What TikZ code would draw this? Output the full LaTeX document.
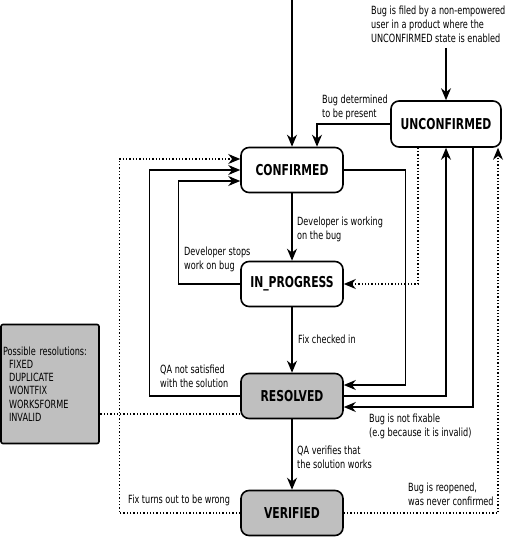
\documentclass[tikz,border=0pt]{standalone}
\usepackage{fontspec}
\setmainfont{DejaVu Sans}[FakeStretch=0.72]
\usetikzlibrary{arrows.meta}

\tikzset{
	state/.style={draw, line width=1.6pt, rounded corners=8pt, minimum width=102pt,
		minimum height=45pt, font=\bfseries\fontsize{15}{18}\selectfont},
	done/.style={state, fill=black!25},
	lbl/.style={anchor=west, align=left, inner sep=0pt, font=\fontsize{11.3}{13.8}\selectfont},
	arr/.style={line width=1.3pt, -{Stealth[length=12pt,width=10pt]}},
	dots/.style={line width=1.3pt, dotted}
}

\begin{document}
\begin{tikzpicture}[x=1pt,y=-1pt]
	\useasboundingbox (0,0) rectangle (504,540);

	\node[state] (conf) at (292,170) {CONFIRMED};
	\node[state] (prog) at (292,284) {IN\_PROGRESS};
	\node[done] (res) at (292,396) {RESOLVED};
	\node[done] (ver) at (292,513) {VERIFIED};
	\node[state, minimum width=110pt, minimum height=46pt] (unconf) at (446,124) {UNCONFIRMED};
	\node[draw, line width=1.6pt, fill=black!25, rounded corners=2pt, minimum width=98pt, minimum height=119pt,
		text width=94pt, inner sep=2pt, align=left, font=\fontsize{11.3}{13.3}\selectfont] (reslist) at (50,384)
		{Possible resolutions:\\ \hspace*{6pt}FIXED\\ \hspace*{6pt}DUPLICATE\\ \hspace*{6pt}WONTFIX\\
		\hspace*{6pt}WORKSFORME\\ \hspace*{6pt}INVALID};

	% labels
	\node[lbl] (filed) at (371,24) {Bug is filed by a non-empowered\\user in a product where the\\UNCONFIRMED state is enabled};
	\node[lbl] (present) at (322,107) {Bug determined\\to be present};
	\node[lbl] (working) at (297,229) {Developer is working\\on the bug};
	\node[lbl] (stops) at (184,259) {Developer stops\\work on bug};
	\node[lbl] (fixin) at (298,339) {Fix checked in};
	\node[lbl] (notsat) at (160,376) {QA not satisfied\\with the solution};
	\node[lbl] (notfix) at (369,426) {Bug is not fixable\\(e.g because it is invalid)};
	\node[lbl] (verifies) at (297,457) {QA verifies that\\the solution works};
	\node[lbl] (reopen) at (408,494) {Bug is reopened,\\was never confirmed};
	\node[lbl] (wrong) at (128,500) {Fix turns out to be wrong};

	\coordinate (start) at (292,0);
	\coordinate (filedend) at (446,48);

	% solid transitions
	\draw[arr] (start) -- (conf.north);
	\draw[arr] (filedend) -- (unconf.north);
	\draw[arr] (unconf.west) -| ([xshift=25pt]conf.north);
	\draw[arr] (conf.south) -- (prog.north);
	\draw[arr] (prog.west) -- ++(-62,0) |- ([yshift=-11pt]conf.west);
	\draw[arr] (prog.south) -- (res.north);
	\draw[arr] (res.south) -- (ver.north);
	\draw[arr] (conf.east) -- ++(62,0) |- ([yshift=11pt]res.east);
	\draw[arr] ([xshift=27pt]unconf.south) |- ([yshift=-11pt]res.east);
	\draw[arr] (res.east) -| (unconf.south);
	\draw[arr] (res.west) -- ++(-91,0) |- (conf.west);

	% dotted transitions
	\draw[arr,dots] (ver.west) -- ++(-121,0) |- ([yshift=11pt]conf.west);
	\draw[arr,dots] (ver.east) -| ([xshift=52pt]unconf.south);
	\draw[arr,dots] ([xshift=-28pt]unconf.south) |- (prog.east);
	\coordinate (rl) at ([yshift=-18pt]res.west);
	\draw[dots] (rl) -- (rl -| reslist.east);
\end{tikzpicture}
\end{document}
